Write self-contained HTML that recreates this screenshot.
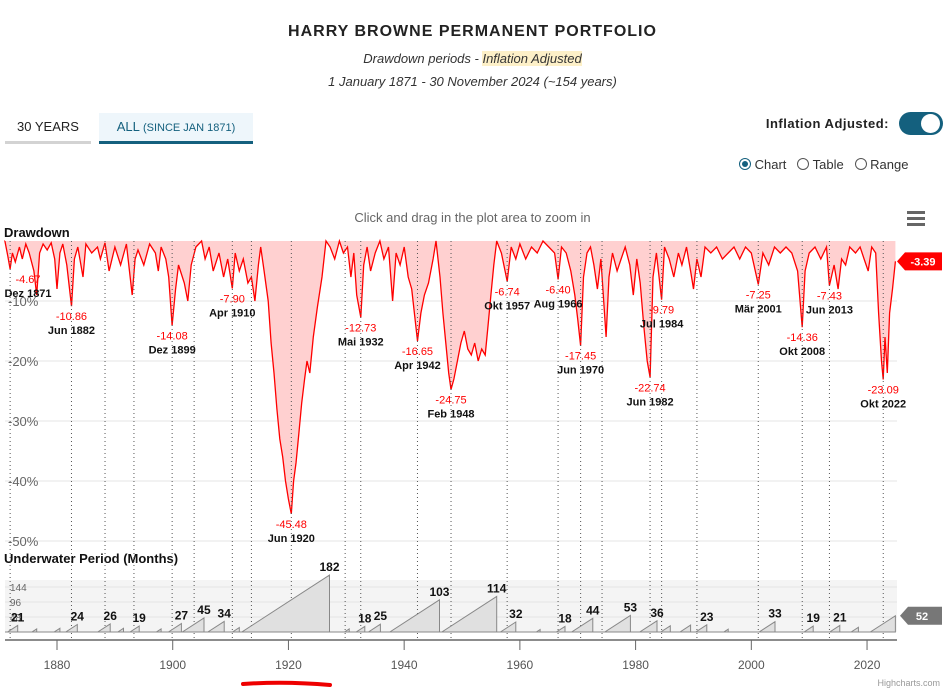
<!DOCTYPE html>
<html><head><meta charset="utf-8">
<style>
body{margin:0;background:#fff;font-family:"Liberation Sans",sans-serif;width:945px;height:691px;overflow:hidden;position:relative}
.abs{position:absolute}
</style></head><body>
<div class="abs" style="left:0;width:945px;top:23px;text-align:center;font-weight:bold;font-size:16px;letter-spacing:1px;color:#222">HARRY BROWNE PERMANENT PORTFOLIO</div>
<div class="abs" style="left:0;width:945px;top:51px;text-align:center;font-style:italic;font-size:13px;color:#333">Drawdown periods - <span style="background:#fdf0c8">Inflation Adjusted</span></div>
<div class="abs" style="left:0;width:945px;top:74px;text-align:center;font-style:italic;font-size:13px;color:#333">1 January 1871 - 30 November 2024 (~154 years)</div>
<div class="abs" style="left:5px;top:113px;width:86px;height:28px;border-bottom:3px solid #d3d3d3;font-size:13px;color:#222;line-height:28px;text-align:center">30 YEARS</div>
<div class="abs" style="left:99px;top:113px;width:154px;height:28px;border-bottom:3px solid #14607e;background:#eef6fb;font-size:13px;color:#14607e;line-height:28px;text-align:center">ALL <span style="font-size:11px">(SINCE JAN 1871)</span></div>
<div class="abs" style="right:56px;top:116px;font-weight:bold;font-size:13px;color:#222;letter-spacing:.5px">Inflation Adjusted:</div>
<div class="abs" style="left:899px;top:112px;width:44px;height:23px;border-radius:12px;background:#14607e"><div style="position:absolute;right:3px;top:2px;width:19px;height:19px;border-radius:50%;background:#fff"></div></div>
<div class="abs" style="left:739px;top:157px;font-size:13px;color:#333">
<span style="display:inline-block;width:10px;height:10px;border:1px solid #14607e;border-radius:50%;vertical-align:-1px;position:relative"><span style="position:absolute;left:2px;top:2px;width:6px;height:6px;border-radius:50%;background:#14607e"></span></span> Chart &nbsp;
<span style="display:inline-block;width:10px;height:10px;border:1px solid #555;border-radius:50%;vertical-align:-1px"></span> Table &nbsp;
<span style="display:inline-block;width:10px;height:10px;border:1px solid #555;border-radius:50%;vertical-align:-1px"></span> Range</div>
<div class="abs" style="left:0;width:945px;top:210px;text-align:center;font-size:13px;color:#666">Click and drag in the plot area to zoom in</div>
<div class="abs" style="left:907px;top:211px;width:18px"><div style="height:3px;background:#666;margin-bottom:3px"></div><div style="height:3px;background:#666;margin-bottom:3px"></div><div style="height:3px;background:#666"></div></div>
<svg class="abs" style="left:0;top:0" width="945" height="691" id="chart"></svg>
<script>
const ddYears=[1871,1871.5,1871.9,1872.3,1872.8,1873.5,1874,1874.6,1875.2,1876,1876.5,1877,1877.6,1878.3,1879,1879.6,1880,1880.5,1881,1881.7,1882.5,1883,1883.6,1884.5,1885,1886,1887,1887.5,1888.3,1889,1890,1891,1892,1893,1893.5,1894,1895,1896,1897,1897.5,1898,1898.8,1899.3,1899.9,1900.5,1901,1902,1902.6,1903.2,1904,1905,1905.6,1906.3,1907,1908,1908.8,1909.5,1910.3,1910.8,1911.5,1912.2,1913,1913.6,1914.2,1914.8,1915.2,1915.8,1916.5,1917,1917.5,1918,1918.5,1919,1919.5,1920,1920.5,1920.9,1921.3,1921.8,1922.3,1922.8,1923.2,1923.7,1924.3,1925,1925.8,1926.5,1927.2,1928,1928.8,1929.5,1930.2,1930.8,1931.3,1931.8,1932.5,1933,1933.6,1934.2,1935,1935.8,1936.5,1937.3,1938,1938.6,1939.3,1940,1940.7,1941.3,1942.3,1942.9,1943.5,1944.2,1945,1945.5,1946.2,1946.7,1947.2,1947.7,1948.1,1948.6,1949.2,1949.8,1950.4,1951,1951.6,1952.2,1952.8,1953.4,1954,1954.5,1955,1955.5,1956,1956.8,1957.8,1958.5,1959.3,1960,1961,1962,1963,1964,1965,1966,1966.6,1967.2,1968,1968.8,1969.5,1970,1970.5,1971,1971.6,1972.2,1972.8,1973.4,1974,1974.9,1975.4,1976,1976.8,1977.5,1978.2,1979,1979.6,1980.2,1980.8,1981.4,1982,1982.5,1983,1983.6,1984.5,1985,1985.8,1986.6,1987.4,1988,1988.8,1989.5,1990,1990.6,1991.3,1992,1993,1994,1995,1996,1997,1998,1999,2000,2001.2,2002,2003,2004,2005,2006,2007,2008,2008.8,2009.3,2010,2011,2012,2013,2013.5,2014.3,2015,2015.6,2016.3,2017,2018,2018.8,2019.5,2020.2,2020.8,2021.5,2022,2022.5,2022.8,2023.1,2023.5,2023.9,2024.4,2024.9];
const ddValues=[0,-2.5,-4.67,-2,-3.5,-1,-3,-0.5,-2,-5,-9,-2,-0.5,-1.5,-0.3,-3,-8,-2,-0.5,-4,-10.86,-3,-1,-6,-0.5,-2,-1,-3,-0.3,-5,-1,-4,-0.5,-9,-3,-1.5,-4,-0.5,-2,-5,-1,-3,-6,-14.08,-8,-4,-7,-10,-4,-1,0,-3,-1,-5,-2,-6,-3,-7.9,-2,-5,-3,-7,-6,-10,-4,-1,-5,-10,-17,-22,-28,-33,-36,-40,-43,-45.48,-40,-37,-32,-27,-23,-20,-22,-16,-11,-6,0,-1,-3,0,-2,-1,-6,-2,-9,-12.73,-4,-1,-5,-2,0,-3,-1,-10,-2,-4,-1,-6,-8,-16.65,-12,-9,-7,-3,0,-6,-12,-17,-22,-24.75,-23,-20,-17,-15,-18,-19,-17,-20,-18,-19,-14,-9,-4,0,-2,-6.74,-1,-3,-0.5,-3,-1,-2,0,-1,-2,-6.4,-1,-2,-5,-9,-13,-17.45,-6,-2,-1,-4,-8,-3,-16,-6,-2,-5,-3,-1,-4,-9,-3,-7,-14,-20,-22.74,-6,-2,-9.79,-1,-3,-6,-2,-4,-1,-5,-8,-3,-6,-1,-2,-1,-3,-2,-1,-3,-1,-2,-7.25,-2,-4,-1,-2,-1,-2,-5,-14.36,-5,-2,-1,-3,-1,-7.43,-4,-8,-3,-4,-1,-2,-1,-3,-5,-1,-2,-12,-20,-23.09,-16,-22,-12,-8,-3.39];
const uwEnd=[1873.2,1876.5,1880.5,1883.5,1889.2,1891.5,1894.2,1898,1901.5,1905.4,1908.9,1911.5,1927.1,1930.5,1933.2,1935.9,1946.1,1956,1959.3,1963.5,1967.8,1972.6,1979.1,1983.7,1986,1989.5,1992.3,1996,2004.1,2010.7,2015.3,2018.5,2024.9];
const uwMonths=[21,10,12,24,26,12,19,10,27,45,34,14,182,10,18,25,103,114,32,8,18,44,53,36,20,22,23,9,33,19,21,15,52];
const uwLabeled=[1,0,0,1,1,0,1,0,1,1,1,0,1,0,1,1,1,1,1,0,1,1,1,1,0,0,1,0,1,1,1,0,0];
const troughYears=[1871.9,1882.5,1888.3,1893.3,1899.9,1903.7,1910.3,1913.6,1920.5,1929.8,1932.5,1942.3,1948.1,1957.8,1966.6,1970.5,1974.2,1982.5,1984.5,1990.6,2001.2,2008.8,2013.5,2022.8];

const svg=document.getElementById('chart');const NS='http://www.w3.org/2000/svg';
const X=y=>57+(y-1880)*5.786;
const Y=v=>241-v*6;
const UY=m=>632-m*0.3125;
function mk(t,a,p){const e=document.createElementNS(NS,t);for(const k in a)e.setAttribute(k,a[k]);(p||svg).appendChild(e);return e;}
function txt(x,y,s,st){const e=mk('text',{x:x,y:y});e.textContent=s;e.setAttribute('style',st);return e;}
let t=txt(4,237,'Drawdown','font-weight:bold;font-size:13px;fill:#111');

t=txt(4,563,'Underwater Period (Months)','font-weight:bold;font-size:13px;fill:#111');

let bg=mk('rect',{x:5,y:580,width:892,height:52,fill:'#f4f4f4'});

[144,96,48].forEach(m=>{const l=mk('line',{x1:5,x2:897,y1:UY(m),y2:UY(m),stroke:'#e4e4e4'});
const tt=txt(10,UY(m)+4,String(m),'font-size:10px;fill:#666');});
[-10,-20,-30,-40,-50].forEach(v=>{const l=mk('line',{x1:5,x2:897,y1:Y(v),y2:Y(v),stroke:'#e6e6e6'});});
let d='M'+X(ddYears[0])+','+Y(0);
ddYears.forEach((yr,i)=>{d+=' L'+X(yr).toFixed(1)+','+Y(ddValues[i]).toFixed(1);});
let ar=mk('path',{d:d+' L'+X(ddYears[ddYears.length-1])+','+Y(0)+' Z',fill:'#ffd0d0'});

let ln=mk('path',{d:d,fill:'none',stroke:'#ff0000','stroke-width':1.3});

troughYears.forEach(yr=>{const l=mk('line',{x1:X(yr),x2:X(yr),y1:241,y2:640,stroke:'#555','stroke-dasharray':'1,3'});});
[-10,-20,-30,-40,-50].forEach(v=>{const tt=txt(8,Y(v)+5,v+'%','font-size:13px;fill:#666');});
const labs=[[1871.9,-4.67,'Dez 1871'],[1882.5,-10.86,'Jun 1882'],[1899.9,-14.08,'Dez 1899'],[1910.3,-7.90,'Apr 1910'],[1920.5,-45.48,'Jun 1920'],[1932.5,-12.73,'Mai 1932'],[1942.3,-16.65,'Apr 1942'],[1948.1,-24.75,'Feb 1948'],[1957.8,-6.74,'Okt 1957'],[1966.6,-6.40,'Aug 1966'],[1970.5,-17.45,'Jun 1970'],[1982.5,-22.74,'Jun 1982'],[1984.5,-9.79,'Jul 1984'],[2001.2,-7.25,'Mär 2001'],[2008.8,-14.36,'Okt 2008'],[2013.5,-7.43,'Jun 2013'],[2022.8,-23.09,'Okt 2022']];
labs.forEach(l=>{const x=Math.max(X(l[0]),28),y=Y(l[1]);
const a=txt(x,y+14,l[1].toFixed(2),'font-size:11px;fill:#f00;text-anchor:middle');
const b=txt(x,y+28,l[2],'font-size:11px;font-weight:bold;fill:#111;text-anchor:middle');});
let u='M5,632';
uwEnd.forEach((e,i)=>{const s=e-uwMonths[i]/12;u+=' L'+X(s).toFixed(1)+',632 L'+X(e).toFixed(1)+','+UY(uwMonths[i]).toFixed(1)+(i<uwEnd.length-1?' L'+X(e).toFixed(1)+',632':'');});
let ua=mk('path',{d:u+' L'+X(uwEnd[uwEnd.length-1])+',632 Z',fill:'#e0e0e0',stroke:'#888','stroke-width':1});

uwEnd.forEach((e,i)=>{if(!uwLabeled[i])return;const tt=txt(X(e),UY(uwMonths[i])-4,String(uwMonths[i]),'font-size:12px;font-weight:bold;fill:#111;text-anchor:middle');});
let ax=mk('line',{x1:5,x2:897,y1:640,y2:640,stroke:'#666','stroke-width':1.5});
[1880,1900,1920,1940,1960,1980,2000,2020].forEach(yr=>{const l=mk('line',{x1:X(yr),x2:X(yr),y1:640,y2:650,stroke:'#666'});
const tt=txt(X(yr),669,String(yr),'font-size:12px;fill:#555;text-anchor:middle');});
const lastDD=ddValues[ddValues.length-1],lastUW=uwMonths[uwMonths.length-1];
let f=mk('path',{d:`M897,${Y(lastDD)} L905,${Y(lastDD)-9} L942,${Y(lastDD)-9} L942,${Y(lastDD)+9} L905,${Y(lastDD)+9} Z`,fill:'#f00'});

t=txt(923,Y(lastDD)+4,lastDD.toFixed(2),'font-size:11px;font-weight:bold;fill:#fff;text-anchor:middle');
f=mk('path',{d:`M900,${UY(lastUW)} L908,${UY(lastUW)-9} L942,${UY(lastUW)-9} L942,${UY(lastUW)+9} L908,${UY(lastUW)+9} Z`,fill:'#777'});

t=txt(922,UY(lastUW)+4,String(lastUW),'font-size:11px;font-weight:bold;fill:#fff;text-anchor:middle');
let rl=mk('path',{d:'M243,684 Q285,681 330,685',stroke:'#e00',"stroke-width":4,fill:'none','stroke-linecap':'round'});
t=txt(940,686,'Highcharts.com','font-size:9px;fill:#999;text-anchor:end');
</script>
</body></html>
